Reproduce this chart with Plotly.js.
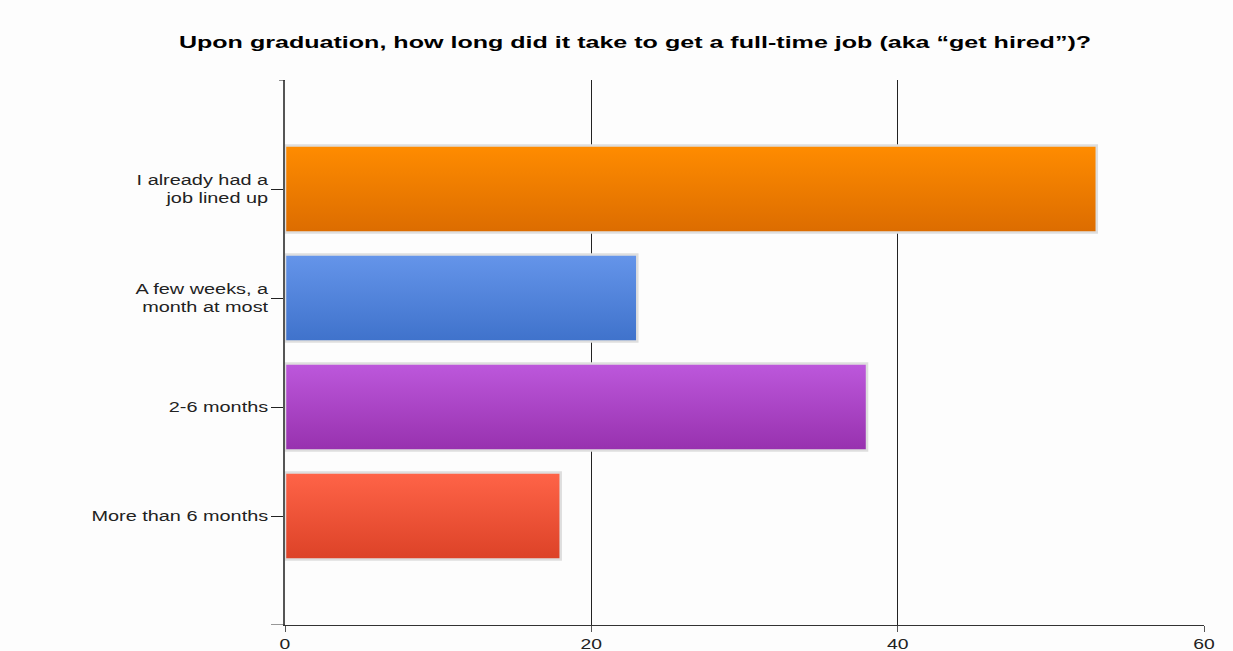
<!DOCTYPE html>
<html><head><meta charset="utf-8">
<script src="https://cdn.plot.ly/plotly-3.0.1.min.js"></script>
<style>html,body{margin:0;padding:0;background:#fdfdfd;}#chart{width:1233px;height:651px;}</style>
</head><body><div id="chart"></div>
<script>
var categories = ["I already had a<br>job lined up", "A few weeks, a<br>month at most", "2-6 months", "More than 6 months"];
var values = [53, 23, 38, 18];
var topColors = ["#ff8c00", "#6595ea", "#bd58dc", "#ff6448"];
var bottomColors = ["#dc6c00", "#3f72cb", "#9731ae", "#dc4227"];
var midColors = ["#ee7c00", "#527fdb", "#aa45c5", "#ee5337"];
var xTicks = [0, 20, 40, 60];
var titleText = "Upon graduation, how long did it take to get a full-time job (aka \u201cget hired\u201d)?";

var trace = {
  type: "bar", orientation: "h",
  y: categories, x: values,
  width: 0.8,
  marker: {color: midColors, line: {color: "#dedede", width: 2.5}},
  hoverinfo: "x+y"
};
var layout = {
  width: 1233, height: 651,
  margin: {l: 285, r: 29, t: 80, b: 26},
  paper_bgcolor: "#fdfdfd", plot_bgcolor: "#fdfdfd",
  title: {text: "<b>" + titleText + "</b>", x: 0.5, xanchor: "center", xref: "paper", y: 0.935, yanchor: "middle",
          font: {family: "Liberation Sans, Arial, sans-serif", size: 16.5, color: "#000"}},
  font: {family: "Liberation Sans, Arial, sans-serif", size: 14, color: "#222"},
  xaxis: {range: [0, 60], tickvals: xTicks, showgrid: true, gridcolor: "#222", gridwidth: 1,
          zeroline: false, showline: true, linecolor: "#333", linewidth: 1,
          ticks: "outside", ticklen: 6, tickcolor: "#555", fixedrange: true},
  yaxis: {type: "category", range: [4, -1], showgrid: false, zeroline: false,
          showline: true, linecolor: "#555", linewidth: 2,
          ticks: "outside", ticklen: 12, tickcolor: "#222", ticklabelstandoff: 0, fixedrange: true},
  shapes: [
    {type: "line", xref: "paper", yref: "y", xsizemode: "pixel", xanchor: 0, x0: -6, x1: 0, y0: -1, y1: -1, line: {color: "#222", width: 1}},
    {type: "line", xref: "paper", yref: "y", xsizemode: "pixel", xanchor: 0, x0: -14, x1: 0, y0: 4, y1: 4, line: {color: "#333", width: 1}}
  ],
  showlegend: false
};

function stretch(el, s, mode) {
  var b = el.getBBox();
  var ax = mode === "end" ? b.x + b.width : (mode === "start" ? b.x : b.x + b.width / 2);
  var t = el.getAttribute("transform") || "";
  el.setAttribute("transform", t + " translate(" + ax + ",0) scale(" + s + ",1) translate(" + (-ax) + ",0)");
}

function recenter(el, cx) {
  var r = el.getBoundingClientRect();
  var svgR = el.ownerSVGElement.getBoundingClientRect();
  var cur = r.left - svgR.left + r.width / 2;
  var t = el.getAttribute("transform") || "";
  el.setAttribute("transform", "translate(" + (cx - cur) + ",0) " + t);
}

Plotly.newPlot("chart", [trace], layout, {displayModeBar: false, staticPlot: true}).then(function(gd){
  var svg = gd.querySelector("svg.main-svg");
  var ns = "http://www.w3.org/2000/svg";
  var defs = svg.querySelector("defs") || svg.insertBefore(document.createElementNS(ns, "defs"), svg.firstChild);
  for (var i = 0; i < topColors.length; i++) {
    var g = document.createElementNS(ns, "linearGradient");
    g.setAttribute("id", "bargrad" + i);
    g.setAttribute("x1", "0"); g.setAttribute("y1", "0"); g.setAttribute("x2", "0"); g.setAttribute("y2", "1");
    var s1 = document.createElementNS(ns, "stop"); s1.setAttribute("offset", "0"); s1.setAttribute("stop-color", topColors[i]);
    var s2 = document.createElementNS(ns, "stop"); s2.setAttribute("offset", "1"); s2.setAttribute("stop-color", bottomColors[i]);
    g.appendChild(s1); g.appendChild(s2); defs.appendChild(g);
  }
  gd.querySelectorAll(".bars .point path").forEach(function(p, i){ p.style.fill = "url(#bargrad" + i + ")"; });
  gd.querySelectorAll(".ytick text").forEach(function(t){ stretch(t, 1.42, "end"); });
  gd.querySelectorAll(".xtick text").forEach(function(t){ stretch(t, 1.38, "middle"); });
  gd.querySelectorAll(".gtitle").forEach(function(t){ stretch(t, 1.52, "middle"); recenter(t, 635); });
});
</script></body></html>
